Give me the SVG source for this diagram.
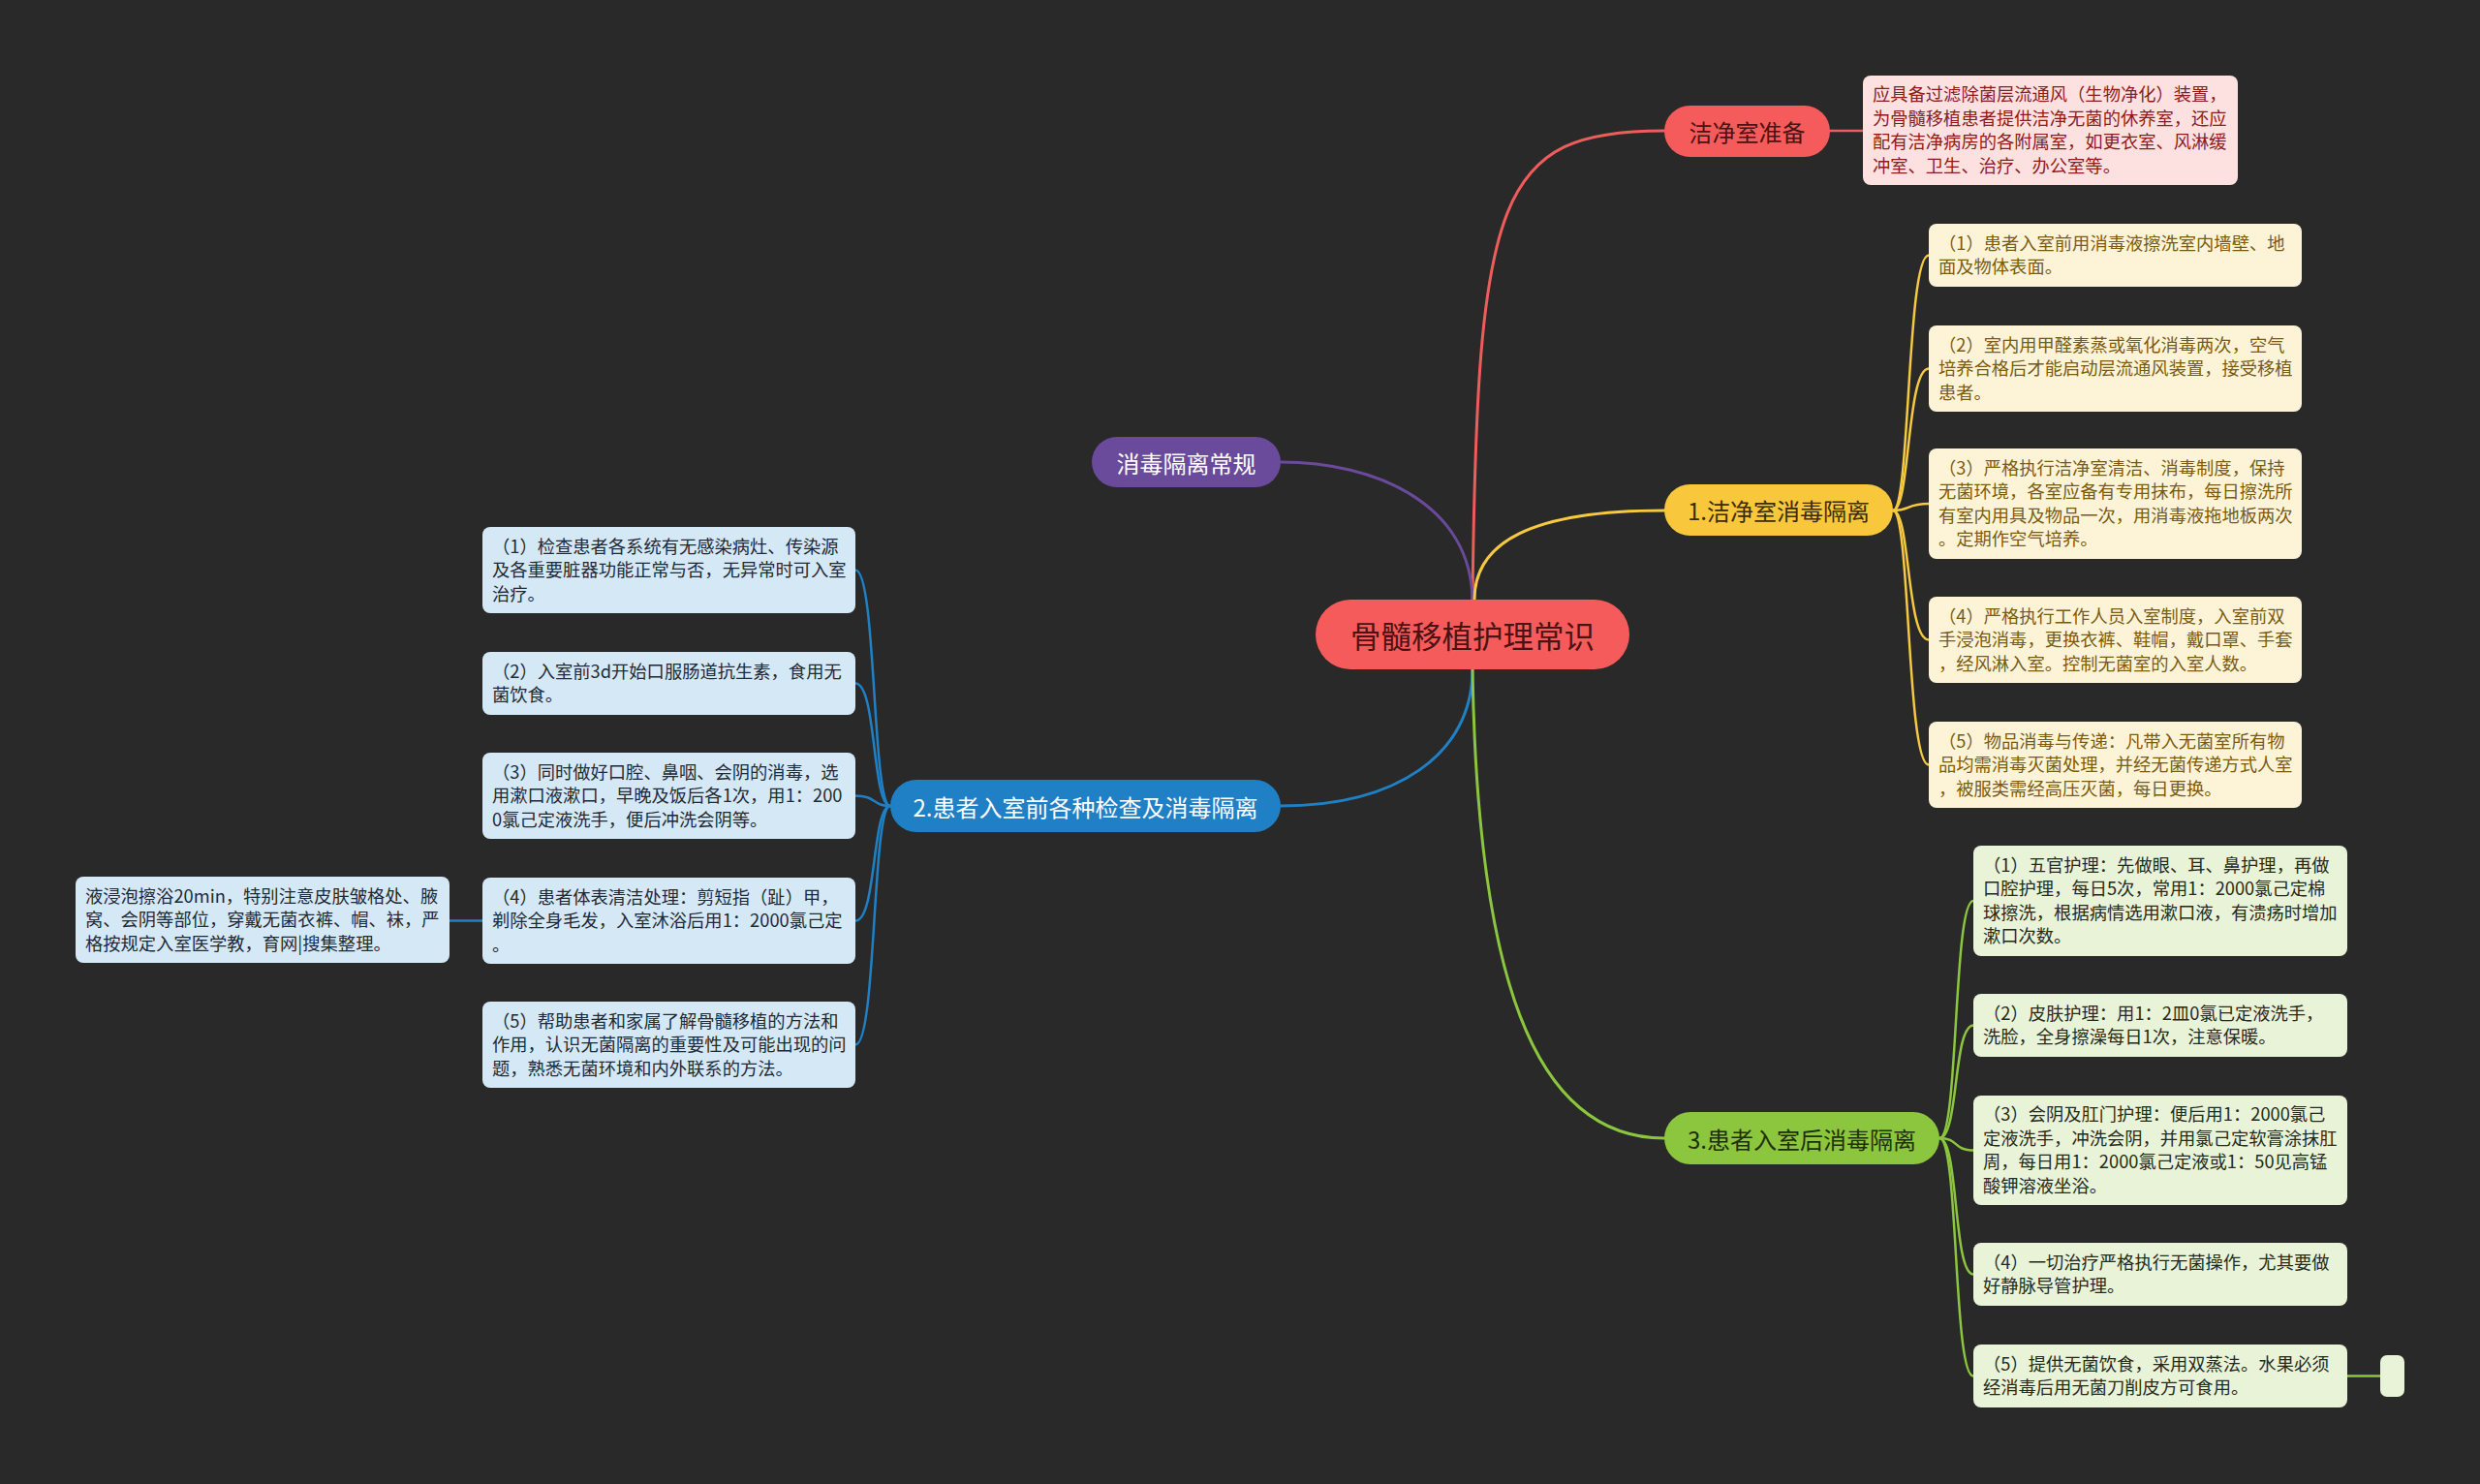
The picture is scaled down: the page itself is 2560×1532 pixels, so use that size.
<svg xmlns="http://www.w3.org/2000/svg" width="2560" height="1532" viewBox="0 0 2560 1532">
<style>
.bg{fill:#292929}
.lnk{fill:none;stroke-width:3;stroke-linecap:round}
.sub{fill:none;stroke-width:2.5;stroke-linecap:round}
.t{font-family:"Noto Sans CJK SC","Noto Sans",sans-serif}
.box{font-size:18.3px}
.pill{font-size:24px;text-anchor:middle;dominant-baseline:central}
</style>
<rect class="bg" x="0" y="0" width="2560" height="1532"/>
<g id="connectors">
  <path class="lnk" stroke="#EE5C5C" d="M1520,619 C1525,200 1545,135 1718,135"/>
  <path class="lnk" stroke="#6A4A9A" d="M1520,619 C1518,520 1420,477 1322,477"/>
  <path class="lnk" stroke="#F6C940" d="M1522,619 C1522,560 1580,527 1718,527"/>
  <path class="lnk" stroke="#1F80C6" d="M1520,691 C1520,780 1440,832 1322,832"/>
  <path class="lnk" stroke="#8CC63F" d="M1520,691 C1525,1000 1580,1175 1718,1175"/>
  <path class="sub" stroke="#EE5C5C" d="M1889,135 L1923,135"/>
  <g stroke="#F6C940">
    <path class="sub" d="M1954,527 C1972,527 1968,263.5 1991,263.5"/>
    <path class="sub" d="M1954,527 C1972,527 1968,380.5 1991,380.5"/>
    <path class="sub" d="M1954,527 C1972,527 1968,520 1991,520"/>
    <path class="sub" d="M1954,527 C1972,527 1968,660.5 1991,660.5"/>
    <path class="sub" d="M1954,527 C1972,527 1968,789.5 1991,789.5"/>
  </g>
  <g stroke="#8CC63F">
    <path class="sub" d="M2002,1175 C2022,1175 2016,930 2037,930"/>
    <path class="sub" d="M2002,1175 C2022,1175 2016,1058.5 2037,1058.5"/>
    <path class="sub" d="M2002,1175 C2022,1175 2016,1187.5 2037,1187.5"/>
    <path class="sub" d="M2002,1175 C2022,1175 2016,1315.5 2037,1315.5"/>
    <path class="sub" d="M2002,1175 C2022,1175 2016,1420.5 2037,1420.5"/>
    <path class="sub" d="M2423,1420.5 L2457,1420.5"/>
  </g>
  <g stroke="#1F80C6">
    <path class="sub" d="M919,832 C900,832 905,588.5 883,588.5"/>
    <path class="sub" d="M919,832 C900,832 905,705.5 883,705.5"/>
    <path class="sub" d="M919,832 C900,832 905,821.5 883,821.5"/>
    <path class="sub" d="M919,832 C900,832 905,950.5 883,950.5"/>
    <path class="sub" d="M919,832 C900,832 905,1078.5 883,1078.5"/>
    <path class="sub" d="M498,950.5 L464,950.5"/>
  </g>
</g>

<g id="root">
  <rect x="1358" y="619" width="324" height="72" rx="36" fill="#F65B5B"/>
  <text class="t" x="1520" y="655" font-size="31.5" text-anchor="middle" dominant-baseline="central" fill="#4A1212">骨髓移植护理常识</text>
</g>

<g id="n-jjszb">
  <rect x="1718" y="109" width="171" height="53" rx="26.5" fill="#F65B5B"/>
  <text class="t pill" x="1803.5" y="135.5" fill="#4A1212">洁净室准备</text>
</g>
<g id="n-jjszb-1">
  <rect x="1923" y="78" width="387" height="113" rx="8" fill="#FDE1E1"/>
  <text class="t box" fill="#8E1B1B"><tspan x="1933" y="104.25">应具备过滤除菌层流通风（生物净化）装置，</tspan><tspan x="1933" dy="24.5">为骨髓移植患者提供洁净无菌的休养室，还应</tspan><tspan x="1933" dy="24.5">配有洁净病房的各附属室，如更衣室、风淋缓</tspan><tspan x="1933" dy="24.5">冲室、卫生、治疗、办公室等。</tspan></text>
</g>

<g id="n-xdglcg">
  <rect x="1127" y="451" width="195" height="52" rx="26" fill="#6A4A9A"/>
  <text class="t pill" x="1224.5" y="477" fill="#FFFFFF">消毒隔离常规</text>
</g>

<g id="n-1">
  <rect x="1718" y="500" width="236" height="53" rx="26.5" fill="#F8C73C"/>
  <text class="t pill" x="1836" y="526.5" fill="#3A2C06">1.洁净室消毒隔离</text>
</g>
<g id="n-1-1">
  <rect x="1991" y="231" width="385" height="65" rx="8" fill="#FDF4D8"/>
  <text class="t box" fill="#7A5B10"><tspan x="2001" y="257.75">（1）患者入室前用消毒液擦洗室内墙壁、地</tspan><tspan x="2001" dy="24.5">面及物体表面。</tspan></text>
</g>
<g id="n-1-2">
  <rect x="1991" y="336" width="385" height="89" rx="8" fill="#FDF4D8"/>
  <text class="t box" fill="#7A5B10"><tspan x="2001" y="362.5">（2）室内用甲醛素蒸或氧化消毒两次，空气</tspan><tspan x="2001" dy="24.5">培养合格后才能启动层流通风装置，接受移植</tspan><tspan x="2001" dy="24.5">患者。</tspan></text>
</g>
<g id="n-1-3">
  <rect x="1991" y="463" width="385" height="114" rx="8" fill="#FDF4D8"/>
  <text class="t box" fill="#7A5B10"><tspan x="2001" y="489.75">（3）严格执行洁净室清洁、消毒制度，保持</tspan><tspan x="2001" dy="24.5">无菌环境，各室应备有专用抹布，每日擦洗所</tspan><tspan x="2001" dy="24.5">有室内用具及物品一次，用消毒液拖地板两次</tspan><tspan x="2001" dy="24.5">。定期作空气培养。</tspan></text>
</g>
<g id="n-1-4">
  <rect x="1991" y="616" width="385" height="89" rx="8" fill="#FDF4D8"/>
  <text class="t box" fill="#7A5B10"><tspan x="2001" y="642.5">（4）严格执行工作人员入室制度，入室前双</tspan><tspan x="2001" dy="24.5">手浸泡消毒，更换衣裤、鞋帽，戴口罩、手套</tspan><tspan x="2001" dy="24.5">，经风淋入室。控制无菌室的入室人数。</tspan></text>
</g>
<g id="n-1-5">
  <rect x="1991" y="745" width="385" height="89" rx="8" fill="#FDF4D8"/>
  <text class="t box" fill="#7A5B10"><tspan x="2001" y="771.5">（5）物品消毒与传递：凡带入无菌室所有物</tspan><tspan x="2001" dy="24.5">品均需消毒灭菌处理，并经无菌传递方式人室</tspan><tspan x="2001" dy="24.5">，被服类需经高压灭菌，每日更换。</tspan></text>
</g>

<g id="n-2">
  <rect x="919" y="805" width="403" height="54" rx="27" fill="#1F80C6"/>
  <text class="t pill" x="1120.5" y="832" fill="#FFFFFF">2.患者入室前各种检查及消毒隔离</text>
</g>
<g id="n-2-1">
  <rect x="498" y="544" width="385" height="89" rx="8" fill="#D5E8F5"/>
  <text class="t box" fill="#1E2A36"><tspan x="508" y="570.5">（1）检查患者各系统有无感染病灶、传染源</tspan><tspan x="508" dy="24.5">及各重要脏器功能正常与否，无异常时可入室</tspan><tspan x="508" dy="24.5">治疗。</tspan></text>
</g>
<g id="n-2-2">
  <rect x="498" y="673" width="385" height="65" rx="8" fill="#D5E8F5"/>
  <text class="t box" fill="#1E2A36"><tspan x="508" y="699.75">（2）入室前3d开始口服肠道抗生素，食用无</tspan><tspan x="508" dy="24.5">菌饮食。</tspan></text>
</g>
<g id="n-2-3">
  <rect x="498" y="777" width="385" height="89" rx="8" fill="#D5E8F5"/>
  <text class="t box" fill="#1E2A36"><tspan x="508" y="803.5">（3）同时做好口腔、鼻咽、会阴的消毒，选</tspan><tspan x="508" dy="24.5">用漱口液漱口，早晚及饭后各1次，用1：200</tspan><tspan x="508" dy="24.5">0氯己定液洗手，便后冲洗会阴等。</tspan></text>
</g>
<g id="n-2-4">
  <rect x="498" y="906" width="385" height="89" rx="8" fill="#D5E8F5"/>
  <text class="t box" fill="#1E2A36"><tspan x="508" y="932.5">（4）患者体表清洁处理：剪短指（趾）甲，</tspan><tspan x="508" dy="24.5">剃除全身毛发，入室沐浴后用1：2000氯己定</tspan><tspan x="508" dy="24.5">。</tspan></text>
</g>
<g id="n-2-4-1">
  <rect x="78" y="905" width="386" height="89" rx="8" fill="#D5E8F5"/>
  <text class="t box" fill="#1E2A36"><tspan x="88" y="931.5">液浸泡擦浴20min，特别注意皮肤皱格处、腋</tspan><tspan x="88" dy="24.5">窝、会阴等部位，穿戴无菌衣裤、帽、袜，严</tspan><tspan x="88" dy="24.5">格按规定入室医学教，育网|搜集整理。</tspan></text>
</g>
<g id="n-2-5">
  <rect x="498" y="1034" width="385" height="89" rx="8" fill="#D5E8F5"/>
  <text class="t box" fill="#1E2A36"><tspan x="508" y="1060.5">（5）帮助患者和家属了解骨髓移植的方法和</tspan><tspan x="508" dy="24.5">作用，认识无菌隔离的重要性及可能出现的问</tspan><tspan x="508" dy="24.5">题，熟悉无菌环境和内外联系的方法。</tspan></text>
</g>

<g id="n-3">
  <rect x="1718" y="1148" width="284" height="54" rx="27" fill="#8CC63F"/>
  <text class="t pill" x="1860" y="1175" fill="#1E3008">3.患者入室后消毒隔离</text>
</g>
<g id="n-3-1">
  <rect x="2037" y="873" width="386" height="114" rx="8" fill="#E8F3D7"/>
  <text class="t box" fill="#262A1C"><tspan x="2047" y="899.75">（1）五官护理：先做眼、耳、鼻护理，再做</tspan><tspan x="2047" dy="24.5">口腔护理，每日5次，常用1：2000氯己定棉</tspan><tspan x="2047" dy="24.5">球擦洗，根据病情选用漱口液，有溃疡时增加</tspan><tspan x="2047" dy="24.5">漱口次数。</tspan></text>
</g>
<g id="n-3-2">
  <rect x="2037" y="1026" width="386" height="65" rx="8" fill="#E8F3D7"/>
  <text class="t box" fill="#262A1C"><tspan x="2047" y="1052.75">（2）皮肤护理：用1：2皿0氯已定液洗手，</tspan><tspan x="2047" dy="24.5">洗脸，全身擦澡每日1次，注意保暖。</tspan></text>
</g>
<g id="n-3-3">
  <rect x="2037" y="1131" width="386" height="113" rx="8" fill="#E8F3D7"/>
  <text class="t box" fill="#262A1C"><tspan x="2047" y="1157.25">（3）会阴及肛门护理：便后用1：2000氯己</tspan><tspan x="2047" dy="24.5">定液洗手，冲洗会阴，并用氯己定软膏涂抹肛</tspan><tspan x="2047" dy="24.5">周，每日用1：2000氯己定液或1：50见高锰</tspan><tspan x="2047" dy="24.5">酸钾溶液坐浴。</tspan></text>
</g>
<g id="n-3-4">
  <rect x="2037" y="1283" width="386" height="65" rx="8" fill="#E8F3D7"/>
  <text class="t box" fill="#262A1C"><tspan x="2047" y="1309.75">（4）一切治疗严格执行无菌操作，尤其要做</tspan><tspan x="2047" dy="24.5">好静脉导管护理。</tspan></text>
</g>
<g id="n-3-5">
  <rect x="2037" y="1388" width="386" height="65" rx="8" fill="#E8F3D7"/>
  <text class="t box" fill="#262A1C"><tspan x="2047" y="1414.75">（5）提供无菌饮食，采用双蒸法。水果必须</tspan><tspan x="2047" dy="24.5">经消毒后用无菌刀削皮方可食用。</tspan></text>
</g>
<g id="n-3-5-1">
  <rect x="2457" y="1399" width="25" height="43" rx="7" fill="#E8F3D7"/>
</g>
</svg>
